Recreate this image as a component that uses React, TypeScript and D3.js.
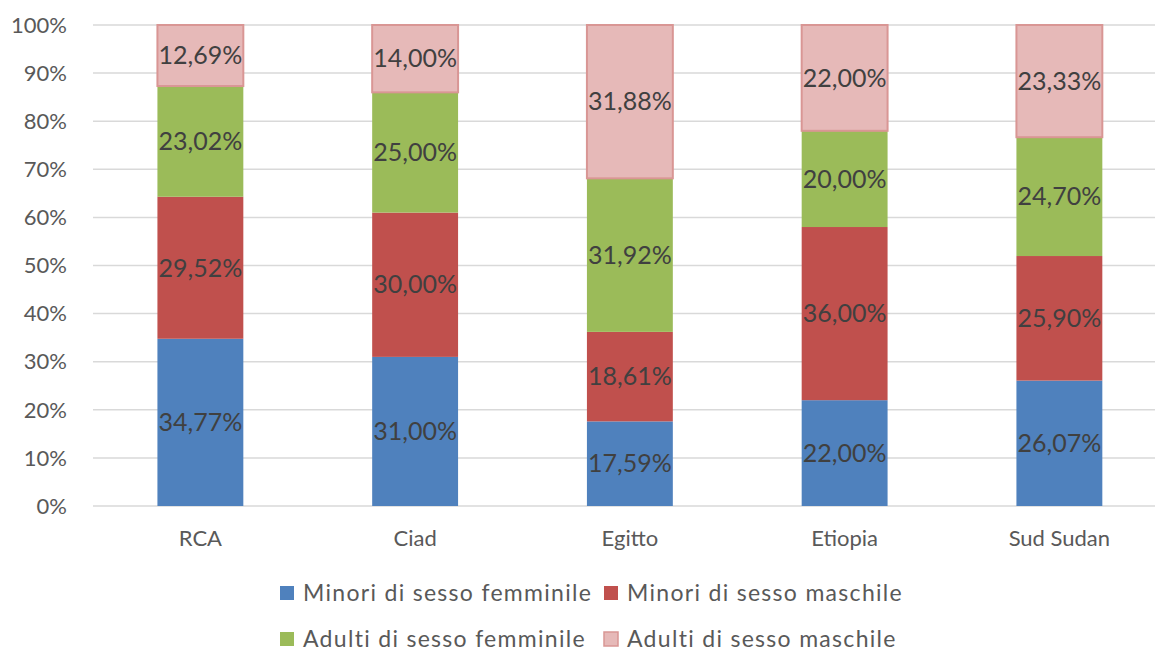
import React from "react";
import * as d3 from "d3";

const categories = ["RCA", "Ciad", "Egitto", "Etiopia", "Sud Sudan"];
const seriesNames = [
  "Minori di sesso femminile",
  "Minori di sesso maschile",
  "Adulti di sesso femminile",
  "Adulti di sesso maschile",
];
const minoriF = [34.77, 31.0, 17.59, 22.0, 26.07];
const minoriM = [29.52, 30.0, 18.61, 36.0, 25.9];
const adultiF = [23.02, 25.0, 31.92, 20.0, 24.7];
const adultiM = [12.69, 14.0, 31.88, 22.0, 23.33];
const yTicks = [0, 10, 20, 30, 40, 50, 60, 70, 80, 90, 100];

const fills = ["#4F81BD", "#C0504D", "#9BBB59", "#E6B9B8"];
const strokes = ["none", "none", "none", "#D99694"];

const W = 1155;
const H = 653;
const left = 93;
const band = 214.75;
const top = 25;
const bottom = 506;
const FONT = "Lato, 'Open Sans', sans-serif";

export default function App() {
  const series = [minoriF, minoriM, adultiF, adultiM];
  const x = d3
    .scaleBand<string>()
    .domain(categories)
    .range([left, left + band * categories.length])
    .paddingInner(0.6)
    .paddingOuter(0.3);
  const y = d3.scaleLinear().domain([0, 100]).range([bottom, top]);

  const table = categories.map((c, i) => {
    const row: any = { cat: c };
    seriesNames.forEach((s, k) => (row[s] = series[k][i]));
    return row;
  });
  const stacked = d3.stack<any>().keys(seriesNames)(table);
  const fmt = (v: number) => v.toFixed(2).replace(".", ",") + "%";

  const legendPos = [
    { x: 280, y: 593 },
    { x: 604, y: 593 },
    { x: 280, y: 639 },
    { x: 604, y: 639 },
  ];

  return (
    <svg
      width={W}
      height={H}
      style={{ position: "absolute", left: 0, top: 0, background: "#fff" }}
      fontFamily={FONT}
    >
      {yTicks.map((t) => (
        <g key={t}>
          <line x1={left} x2={W} y1={y(t)} y2={y(t)} stroke="#D9D9D9" strokeWidth={1.5} />
          <text x={67} y={y(t)} dy="0.35em" textAnchor="end" fontSize={22} fill="#595959">
            {t}%
          </text>
        </g>
      ))}
      {stacked.map((layer, k) =>
        layer.map((d, i) => {
          const bx = x(categories[i])!;
          const y0 = y(d[0]);
          const y1 = y(d[1]);
          return (
            <rect
              key={k + "-" + i}
              x={bx}
              y={y1}
              width={x.bandwidth()}
              height={y0 - y1}
              fill={fills[k]}
              stroke={strokes[k]}
              strokeWidth={k === 3 ? 2 : 0}
            />
          );
        })
      )}
      {stacked.map((layer, k) =>
        layer.map((d, i) => (
          <text
            key={"l" + k + "-" + i}
            x={x(categories[i])! + x.bandwidth() / 2}
            y={(y(d[0]) + y(d[1])) / 2}
            dy="0.35em"
            textAnchor="middle"
            fontSize={25}
            fill="#404040"
          >
            {fmt(series[k][i])}
          </text>
        ))
      )}
      {categories.map((c) => (
        <text
          key={c}
          x={x(c)! + x.bandwidth() / 2}
          y={538}
          dy="0.35em"
          textAnchor="middle"
          fontSize={22}
          fill="#595959"
        >
          {c}
        </text>
      ))}
      {seriesNames.map((s, k) => (
        <g key={s} transform={`translate(${legendPos[k].x},${legendPos[k].y})`}>
          <rect
            x={0}
            y={-7}
            width={14}
            height={14}
            fill={fills[k]}
            stroke={strokes[k]}
            strokeWidth={k === 3 ? 1.5 : 0}
          />
          <text x={23} y={0} dy="0.33em" fontSize={23} letterSpacing={1.3} fill="#595959">
            {s}
          </text>
        </g>
      ))}
    </svg>
  );
}
